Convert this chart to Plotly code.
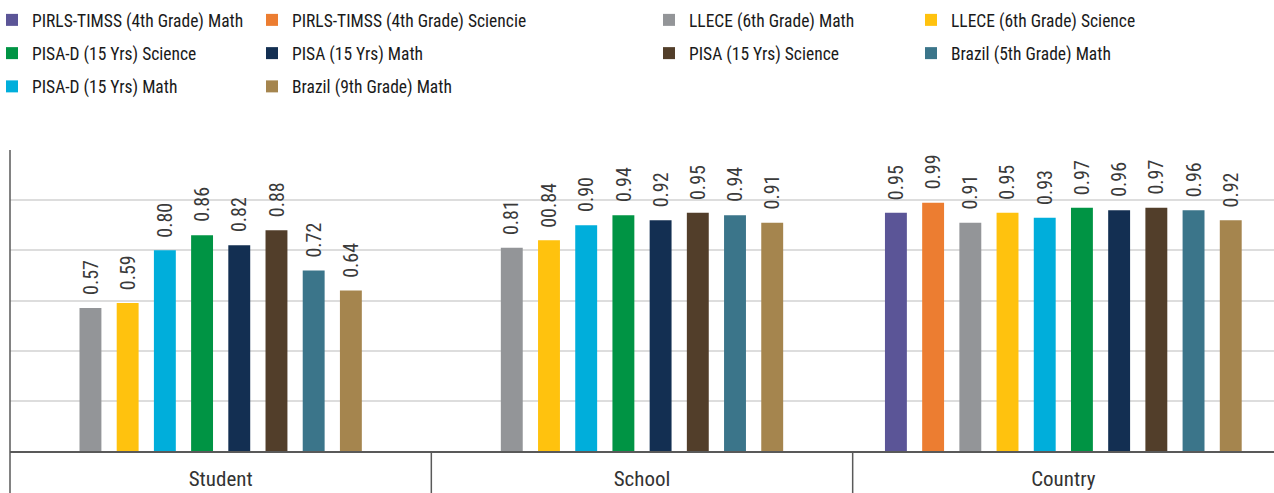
import plotly.graph_objects as go

categories = ["Student", "School", "Country"]

series_names = [
    "PIRLS-TIMSS (4th Grade) Math",
    "PIRLS-TIMSS (4th Grade) Sciencie",
    "LLECE (6th Grade) Math",
    "LLECE (6th Grade) Science",
    "PISA-D (15 Yrs) Math",
    "PISA-D (15 Yrs) Science",
    "PISA (15 Yrs) Math",
    "PISA (15 Yrs) Science",
    "Brazil (5th Grade) Math",
    "Brazil (9th Grade) Math",
]

pirls_math = [None, None, 0.95]
pirls_science = [None, None, 0.99]
llece_math = [0.57, 0.81, 0.91]
llece_science = [0.59, 0.84, 0.95]
pisad_math = [0.80, 0.90, 0.93]
pisad_science = [0.86, 0.94, 0.97]
pisa_math = [0.82, 0.92, 0.96]
pisa_science = [0.88, 0.95, 0.97]
brazil5_math = [0.72, 0.94, 0.96]
brazil9_math = [0.64, 0.91, 0.92]

series_values = [pirls_math, pirls_science, llece_math, llece_science, pisad_math,
                 pisad_science, pisa_math, pisa_science, brazil5_math, brazil9_math]

# label as printed in the source (one label has a typo there)
label_overrides = {("LLECE (6th Grade) Science", "School"): "00.84"}

colors = ["#5B5597", "#EC7D31", "#939598", "#FFC20E", "#00AEDB",
          "#009444", "#132F52", "#523E2A", "#3B758A", "#A5854E"]

legend_order = [
    "PIRLS-TIMSS (4th Grade) Math", "PIRLS-TIMSS (4th Grade) Sciencie",
    "LLECE (6th Grade) Math", "LLECE (6th Grade) Science",
    "PISA-D (15 Yrs) Science", "PISA (15 Yrs) Math",
    "PISA (15 Yrs) Science", "Brazil (5th Grade) Math",
    "PISA-D (15 Yrs) Math", "Brazil (9th Grade) Math",
]
legend_ids = ["legend", "legend2", "legend3", "legend4"]

FONT = "Roboto Condensed, Liberation Sans Narrow, Roboto, sans-serif"
SPACING = 0.0883
BAR_W = 0.052

W, H = 1274, 493
ML, MR, MT, MB = 10, 0, 150, 42
plot_w = W - ML - MR
plot_h = H - MT - MB

# positions of each series within each category (only series with data)
positions = {}
for ci, cat in enumerate(categories):
    present = [si for si in range(len(series_names)) if series_values[si][ci] is not None]
    n = len(present)
    for k, si in enumerate(present):
        positions[(si, ci)] = ci + (k - (n - 1) / 2) * SPACING

fig = go.Figure()
annotations = []
for si, name in enumerate(series_names):
    xs, ys = [], []
    for ci, cat in enumerate(categories):
        v = series_values[si][ci]
        if v is None:
            continue
        xs.append(positions[(si, ci)])
        ys.append(v)
        annotations.append(dict(
            x=positions[(si, ci)], y=v, xref="x", yref="y",
            text=label_overrides.get((name, cat), f"{v:.2f}"),
            showarrow=False, textangle=-90, xanchor="center", yanchor="bottom",
            yshift=11, font=dict(family=FONT, size=20, color="#3a3a3a"),
        ))
    rank = legend_order.index(name)
    fig.add_trace(go.Bar(
        x=xs, y=ys, name=name, width=BAR_W,
        marker=dict(color=colors[si], line=dict(width=0)),
        legend=legend_ids[rank % 4], legendrank=rank + 1,
        legendgroup=name, hoverinfo="x+y",
    ))

# legend columns (left edge in pixels) converted to paper coordinates
col_px = [-8, 252, 649, 911]
legend_common = dict(
    orientation="v", xref="paper", yref="paper", xanchor="left",
    yanchor="top", y=1 + (MT - 2) / plot_h, bgcolor="rgba(0,0,0,0)", borderwidth=0,
    font=dict(family=FONT, size=17.5, color="#1a1a1a"), tracegroupgap=7.5,
    itemclick=False, itemdoubleclick=False,
)
layout_legends = {}
for li, lid in enumerate(legend_ids):
    layout_legends[lid] = dict(legend_common, x=(col_px[li] - ML) / plot_w)

ext = MB / plot_h
shapes = [dict(type="line", xref="paper", yref="paper", x0=0, x1=0, y0=-ext, y1=1,
               line=dict(color="#595959", width=1.5))]
for b in [0.5, 1.5]:
    shapes.append(dict(type="line", xref="x", yref="paper", x0=b, x1=b, y0=-ext, y1=0,
                       line=dict(color="#595959", width=1.5)))

fig.update_layout(
    width=W, height=H,
    margin=dict(l=ML, r=MR, t=MT, b=MB, autoexpand=False),
    paper_bgcolor="white", plot_bgcolor="white",
    font=dict(family=FONT, size=18, color="#333333"),
    showlegend=True,
    shapes=shapes,
    annotations=annotations,
    **layout_legends,
    xaxis=dict(range=[-0.5, 2.5], tickvals=[0, 1, 2], ticktext=categories,
               showgrid=False, zeroline=False, showline=True, linecolor="#595959",
               linewidth=1.5, ticks="", ticklabelstandoff=8, tickangle=0,
               tickfont=dict(family=FONT, size=21, color="#333333")),
    yaxis=dict(range=[0, 1.2], dtick=0.2, showticklabels=False, showgrid=True,
               gridcolor="#DDDDDD", gridwidth=1.5, zeroline=False, showline=False),
)

fig.write_html("out.html", config={"displayModeBar": False},
               post_script="document.body.style.margin='0';")
